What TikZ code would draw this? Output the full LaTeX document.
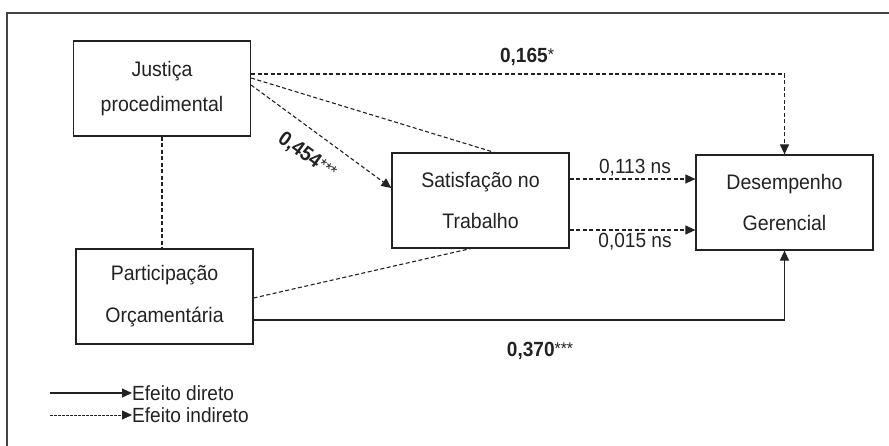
\documentclass[tikz,border=0pt]{standalone}
\usepackage{fontspec}
\setmainfont[FakeStretch=0.93]{Liberation Sans}
\usetikzlibrary{arrows.meta}
\definecolor{ink}{HTML}{222222}
\definecolor{framegray}{HTML}{444444}
\newcommand{\stars}[1]{\raisebox{2pt}{\fontsize{17}{17}\selectfont\mdseries #1}}
\tikzset{
  varbox/.style={draw=ink, line width=1.2pt, minimum width=177pt, minimum height=95pt,
    inner sep=0pt, align=center, text=ink},
  tip/.style={-{Triangle[length=10pt,width=9pt]}},
  dir/.style={draw=ink, line width=1.2pt},
  ind/.style={draw=ink, line width=1.1pt, dash pattern=on 4pt off 2.5pt},
  coef/.style={text=ink, font=\fontsize{20.5}{22}\selectfont, inner sep=1pt},
  coefb/.style={coef, font=\fontsize{20.5}{22}\selectfont\bfseries},
}
\begin{document}
\begin{tikzpicture}[x=1pt,y=-1pt]
\useasboundingbox (0,0) rectangle (889,445);
% outer frame (open to the right and bottom)
\draw[framegray, line width=2pt] (900,13) -- (7,13) -- (7,460);

% variables
\node[varbox, font=\fontsize{21}{35}\selectfont] (J) at (162,88.5) {Justiça\\procedimental};
\node[varbox, font=\fontsize{21}{42}\selectfont] (P) at (164.5,296.5) {Participação\\Orçamentária};
\node[varbox, font=\fontsize{21}{41}\selectfont] (S) at (480.5,200.5) {Satisfação no\\Trabalho};
\node[varbox, font=\fontsize{21}{41}\selectfont] (D) at (784.5,202.5) {Desempenho\\Gerencial};

% paths
\draw[ind, tip] ([yshift=14.5pt]J.east) -| (D.north);
\draw[ind] ([yshift=10.5pt]J.east) -- ([xshift=14pt]S.north);
\draw[ind, tip] ([yshift=3.5pt]J.east) -- ([yshift=12.5pt]S.west);
\draw[ind] (J.south) -- (J.south |- P.north);
\coordinate (s1) at ([yshift=21.5pt]S.east);
\coordinate (s2) at ([yshift=-29.5pt]S.east);
\draw[ind, tip] (s1) -- (s1 -| D.west);
\draw[ind, tip] (s2) -- (s2 -| D.west);
\draw[ind] ([yshift=-1.5pt]P.east) -- ([xshift=-10pt]S.south);
\draw[dir, tip] ([yshift=-23.5pt]P.east) -| (D.south);

% coefficients
\node[coefb] (c1) at (527,57) {0,165\stars{*}};
\node[coefb, rotate=-36] (c2) at (307,156) {0,454\stars{***}};
\node[coef] (c3) at (635,168) {0,113 ns};
\node[coef] (c4) at (635,242) {0,015 ns};
\node[coefb] (c5) at (540,351) {0,370\stars{***}};

% legend
\coordinate (l1) at (50,393);
\coordinate (l2) at (50,415);
\node[coef, anchor=west, inner sep=0pt] (t1) at (132,393) {Efeito direto};
\node[coef, anchor=west, inner sep=0pt] (t2) at (132,415) {Efeito indireto};
\draw[dir, tip] (l1) -- (t1.west);
\draw[ind, line width=0.9pt, dash pattern=on 2.5pt off 1.5pt, tip] (l2) -- (t2.west);
\end{tikzpicture}
\end{document}
